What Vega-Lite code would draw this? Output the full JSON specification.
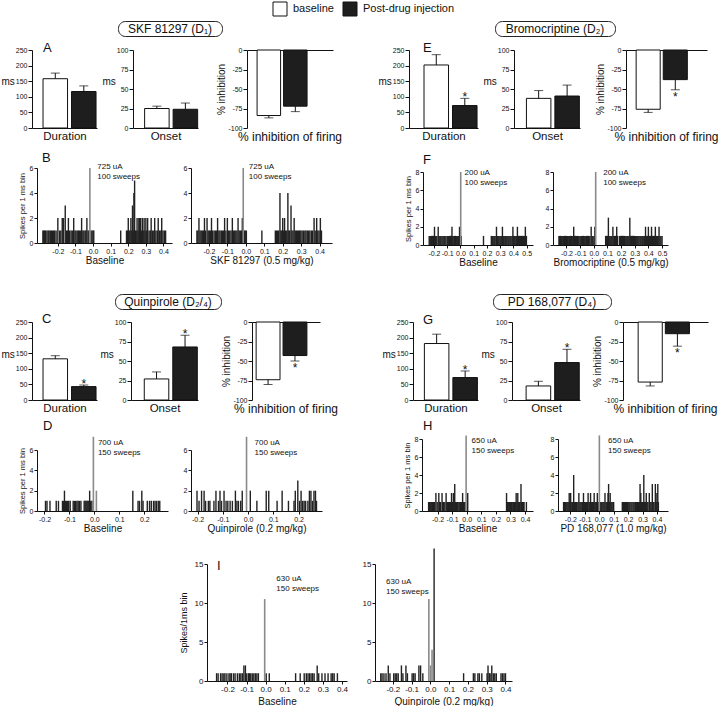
{
"$schema":"https://vega.github.io/schema/vega-lite/v6.json",
"padding":0,
"background":"white",
"config":{
 "view":{"stroke":null},
 "font":"Liberation Sans",
 "axis":{"labelFont":"Liberation Sans","titleFont":"Liberation Sans","labelFontSize":7,"titleFontSize":10,"titleFontWeight":"normal","tickSize":3,"labelPadding":1,"domainColor":"#111","tickColor":"#111","labelColor":"#111","titleColor":"#111","grid":false,"labelFlush":false,"labelOverlap":false,"titlePadding":3},
 "text":{"font":"Liberation Sans","color":"#111"},
 "title":{"font":"Liberation Sans","fontWeight":"normal","color":"#111"}
},
"datasets":{
 "notes":[{"p":"B0","t":0.024,"n":6.4,"txt":["725 uA","100 sweeps"]},{"p":"B1","t":0.016,"n":6.4,"txt":["725 uA","100 sweeps"]},{"p":"F0","t":0.031,"n":8.38,"txt":["200 uA","100 sweeps"]},{"p":"F1","t":0.069,"n":8.38,"txt":["200 uA","100 sweeps"]},{"p":"D0","t":0.014,"n":7.06,"txt":["700 uA","150 sweeps"]},{"p":"D1","t":0.026,"n":7.06,"txt":["700 uA","150 sweeps"]},{"p":"H0","t":0.033,"n":8.17,"txt":["650 uA","150 sweeps"]},{"p":"H1","t":0.061,"n":8.17,"txt":["650 uA","150 sweeps"]},{"p":"I0","t":0.056,"n":13.6,"txt":["630 uA","150 sweeps"]},{"p":"I1","t":-0.236,"n":13.2,"txt":["630 uA","150 sweeps"]}],
 "A_dur":[{"g":"baseline","v":158,"e":176},{"g":"Post-drug injection","v":117,"e":135}],
 "A_on":[{"g":"baseline","v":25,"e":28},{"g":"Post-drug injection","v":24,"e":32}],
 "A_inh":[{"g":"baseline","v":-84,"e":-87},{"g":"Post-drug injection","v":-72,"e":-79}],
 "E_dur":[{"g":"baseline","v":202,"e":235},{"g":"Post-drug injection","v":72,"e":95,"s":true}],
 "E_on":[{"g":"baseline","v":38,"e":48},{"g":"Post-drug injection","v":41,"e":55}],
 "E_inh":[{"g":"baseline","v":-76,"e":-80},{"g":"Post-drug injection","v":-38,"e":-51,"s":true}],
 "C_dur":[{"g":"baseline","v":132,"e":142},{"g":"Post-drug injection","v":43,"e":48,"s":true}],
 "C_on":[{"g":"baseline","v":27,"e":36},{"g":"Post-drug injection","v":68,"e":83,"s":true}],
 "C_inh":[{"g":"baseline","v":-74,"e":-80},{"g":"Post-drug injection","v":-43,"e":-50,"s":true}],
 "G_dur":[{"g":"baseline","v":181,"e":211},{"g":"Post-drug injection","v":72,"e":93,"s":true}],
 "G_on":[{"g":"baseline","v":18,"e":24},{"g":"Post-drug injection","v":48,"e":65,"s":true}],
 "G_inh":[{"g":"baseline","v":-77,"e":-82},{"g":"Post-drug injection","v":-15,"e":-31,"s":true}],
 "B0":[{"t":-0.285,"n":1},{"t":-0.28,"n":1},{"t":-0.275,"n":1},{"t":-0.27,"n":1},{"t":-0.262,"n":1},{"t":-0.255,"n":1},{"t":-0.25,"n":1},{"t":-0.243,"n":1},{"t":-0.237,"n":1},{"t":-0.23,"n":1},{"t":-0.224,"n":1},{"t":-0.218,"n":1},{"t":-0.21,"n":1},{"t":-0.2,"n":2},{"t":-0.19,"n":1},{"t":-0.183,"n":1},{"t":-0.175,"n":2},{"t":-0.168,"n":2},{"t":-0.158,"n":3},{"t":-0.15,"n":1},{"t":-0.145,"n":1},{"t":-0.14,"n":2},{"t":-0.133,"n":1},{"t":-0.125,"n":1},{"t":-0.118,"n":1},{"t":-0.11,"n":2},{"t":-0.103,"n":1},{"t":-0.097,"n":1},{"t":-0.09,"n":1},{"t":-0.083,"n":1},{"t":-0.078,"n":1},{"t":-0.07,"n":1},{"t":-0.065,"n":2},{"t":-0.058,"n":1},{"t":-0.052,"n":1},{"t":-0.045,"n":1},{"t":-0.04,"n":1},{"t":-0.035,"n":2},{"t":-0.028,"n":1},{"t":-0.022,"n":1},{"t":-0.018,"n":6,"k":"s"},{"t":-0.012,"n":1},{"t":-0.006,"n":1},{"t":0.0,"n":1},{"t":0.004,"n":1},{"t":0.157,"n":1},{"t":0.19,"n":1},{"t":0.195,"n":1},{"t":0.2,"n":2},{"t":0.205,"n":1},{"t":0.21,"n":1},{"t":0.215,"n":2},{"t":0.22,"n":1},{"t":0.224,"n":3},{"t":0.228,"n":1},{"t":0.232,"n":4},{"t":0.236,"n":5},{"t":0.24,"n":1},{"t":0.245,"n":1},{"t":0.25,"n":2},{"t":0.255,"n":1},{"t":0.26,"n":2},{"t":0.265,"n":2},{"t":0.27,"n":2},{"t":0.275,"n":1},{"t":0.28,"n":2},{"t":0.285,"n":1},{"t":0.29,"n":2},{"t":0.295,"n":1},{"t":0.3,"n":2},{"t":0.305,"n":1},{"t":0.31,"n":2},{"t":0.318,"n":1},{"t":0.325,"n":1},{"t":0.33,"n":2},{"t":0.337,"n":1},{"t":0.345,"n":1},{"t":0.35,"n":2},{"t":0.357,"n":1},{"t":0.365,"n":1},{"t":0.37,"n":2},{"t":0.378,"n":1},{"t":0.385,"n":1},{"t":0.39,"n":2},{"t":0.397,"n":1},{"t":0.405,"n":1},{"t":0.412,"n":1}],
 "B1":[{"t":-0.265,"n":1},{"t":-0.26,"n":1},{"t":-0.254,"n":2},{"t":-0.248,"n":1},{"t":-0.242,"n":1},{"t":-0.236,"n":1},{"t":-0.23,"n":1},{"t":-0.224,"n":2},{"t":-0.218,"n":1},{"t":-0.21,"n":2},{"t":-0.204,"n":1},{"t":-0.198,"n":1},{"t":-0.192,"n":1},{"t":-0.186,"n":2},{"t":-0.18,"n":1},{"t":-0.172,"n":1},{"t":-0.165,"n":1},{"t":-0.158,"n":1},{"t":-0.153,"n":2},{"t":-0.146,"n":1},{"t":-0.14,"n":1},{"t":-0.133,"n":1},{"t":-0.127,"n":1},{"t":-0.12,"n":1},{"t":-0.115,"n":2},{"t":-0.108,"n":1},{"t":-0.1,"n":2},{"t":-0.094,"n":1},{"t":-0.087,"n":1},{"t":-0.08,"n":1},{"t":-0.073,"n":2},{"t":-0.066,"n":1},{"t":-0.06,"n":1},{"t":-0.054,"n":1},{"t":-0.048,"n":1},{"t":-0.042,"n":2},{"t":-0.036,"n":1},{"t":-0.03,"n":1},{"t":-0.024,"n":1},{"t":-0.019,"n":2},{"t":-0.014,"n":6,"k":"s"},{"t":-0.008,"n":1},{"t":-0.003,"n":1},{"t":0.003,"n":1},{"t":0.087,"n":1},{"t":0.16,"n":1},{"t":0.166,"n":1},{"t":0.172,"n":1},{"t":0.178,"n":1},{"t":0.185,"n":4},{"t":0.19,"n":1},{"t":0.195,"n":1},{"t":0.2,"n":2},{"t":0.205,"n":1},{"t":0.21,"n":2},{"t":0.216,"n":1},{"t":0.222,"n":1},{"t":0.228,"n":4},{"t":0.233,"n":1},{"t":0.238,"n":1},{"t":0.245,"n":3},{"t":0.25,"n":1},{"t":0.256,"n":1},{"t":0.262,"n":2},{"t":0.268,"n":1},{"t":0.274,"n":1},{"t":0.28,"n":1},{"t":0.286,"n":1},{"t":0.292,"n":1},{"t":0.298,"n":1},{"t":0.305,"n":1},{"t":0.312,"n":1},{"t":0.32,"n":1},{"t":0.326,"n":1},{"t":0.333,"n":1},{"t":0.34,"n":1},{"t":0.347,"n":1},{"t":0.355,"n":1},{"t":0.362,"n":1},{"t":0.37,"n":2},{"t":0.376,"n":1},{"t":0.384,"n":2},{"t":0.39,"n":1},{"t":0.397,"n":1},{"t":0.404,"n":2},{"t":0.41,"n":1}],
 "F0":[{"t":-0.236,"n":1},{"t":-0.23,"n":1},{"t":-0.224,"n":1},{"t":-0.218,"n":1},{"t":-0.212,"n":1},{"t":-0.204,"n":1},{"t":-0.196,"n":2},{"t":-0.19,"n":1},{"t":-0.184,"n":1},{"t":-0.178,"n":1},{"t":-0.168,"n":2},{"t":-0.162,"n":1},{"t":-0.155,"n":1},{"t":-0.148,"n":1},{"t":-0.14,"n":1},{"t":-0.132,"n":1},{"t":-0.125,"n":1},{"t":-0.118,"n":1},{"t":-0.11,"n":1},{"t":-0.1,"n":1},{"t":-0.094,"n":1},{"t":-0.088,"n":1},{"t":-0.082,"n":1},{"t":-0.075,"n":1},{"t":-0.068,"n":1},{"t":-0.064,"n":2},{"t":-0.058,"n":1},{"t":-0.05,"n":1},{"t":-0.044,"n":1},{"t":-0.038,"n":1},{"t":-0.032,"n":1},{"t":-0.026,"n":1},{"t":-0.02,"n":1},{"t":-0.013,"n":1},{"t":-0.007,"n":2},{"t":0.002,"n":8,"k":"s"},{"t":0.006,"n":1},{"t":0.174,"n":1},{"t":0.233,"n":1},{"t":0.24,"n":1},{"t":0.247,"n":1},{"t":0.255,"n":1},{"t":0.262,"n":1},{"t":0.272,"n":2},{"t":0.278,"n":1},{"t":0.285,"n":1},{"t":0.292,"n":1},{"t":0.3,"n":1},{"t":0.308,"n":1},{"t":0.317,"n":2},{"t":0.323,"n":1},{"t":0.33,"n":1},{"t":0.338,"n":1},{"t":0.345,"n":1},{"t":0.352,"n":1},{"t":0.36,"n":1},{"t":0.367,"n":1},{"t":0.375,"n":1},{"t":0.382,"n":1},{"t":0.39,"n":1},{"t":0.396,"n":2},{"t":0.402,"n":1},{"t":0.41,"n":1},{"t":0.418,"n":1},{"t":0.425,"n":1},{"t":0.43,"n":2},{"t":0.437,"n":1},{"t":0.445,"n":1},{"t":0.452,"n":1},{"t":0.46,"n":1},{"t":0.467,"n":1},{"t":0.475,"n":1},{"t":0.482,"n":1},{"t":0.49,"n":2},{"t":0.498,"n":1}],
 "F1":[{"t":-0.255,"n":1},{"t":-0.25,"n":1},{"t":-0.244,"n":1},{"t":-0.238,"n":1},{"t":-0.232,"n":1},{"t":-0.226,"n":1},{"t":-0.22,"n":1},{"t":-0.214,"n":1},{"t":-0.208,"n":1},{"t":-0.2,"n":1},{"t":-0.194,"n":1},{"t":-0.188,"n":1},{"t":-0.182,"n":1},{"t":-0.176,"n":1},{"t":-0.17,"n":1},{"t":-0.164,"n":1},{"t":-0.158,"n":1},{"t":-0.152,"n":1},{"t":-0.147,"n":2},{"t":-0.14,"n":1},{"t":-0.134,"n":1},{"t":-0.128,"n":1},{"t":-0.12,"n":1},{"t":-0.114,"n":1},{"t":-0.108,"n":1},{"t":-0.1,"n":1},{"t":-0.094,"n":1},{"t":-0.088,"n":1},{"t":-0.082,"n":1},{"t":-0.076,"n":1},{"t":-0.07,"n":1},{"t":-0.064,"n":1},{"t":-0.058,"n":1},{"t":-0.052,"n":1},{"t":-0.046,"n":1},{"t":-0.04,"n":1},{"t":-0.034,"n":1},{"t":-0.028,"n":1},{"t":-0.019,"n":2},{"t":-0.012,"n":1},{"t":-0.006,"n":1},{"t":0.002,"n":1},{"t":0.008,"n":2},{"t":0.014,"n":8,"k":"s"},{"t":0.087,"n":1},{"t":0.093,"n":1},{"t":0.1,"n":1},{"t":0.107,"n":3},{"t":0.113,"n":1},{"t":0.12,"n":1},{"t":0.127,"n":1},{"t":0.133,"n":1},{"t":0.14,"n":2},{"t":0.147,"n":1},{"t":0.153,"n":1},{"t":0.16,"n":1},{"t":0.168,"n":2},{"t":0.175,"n":1},{"t":0.19,"n":1},{"t":0.197,"n":1},{"t":0.204,"n":1},{"t":0.21,"n":1},{"t":0.217,"n":1},{"t":0.224,"n":1},{"t":0.23,"n":1},{"t":0.237,"n":1},{"t":0.244,"n":1},{"t":0.25,"n":1},{"t":0.257,"n":1},{"t":0.264,"n":3},{"t":0.27,"n":1},{"t":0.277,"n":1},{"t":0.284,"n":1},{"t":0.29,"n":1},{"t":0.297,"n":1},{"t":0.304,"n":1},{"t":0.311,"n":1},{"t":0.318,"n":1},{"t":0.325,"n":1},{"t":0.332,"n":1},{"t":0.34,"n":1},{"t":0.347,"n":1},{"t":0.355,"n":1},{"t":0.362,"n":1},{"t":0.37,"n":1},{"t":0.379,"n":2},{"t":0.386,"n":1},{"t":0.393,"n":1},{"t":0.4,"n":2},{"t":0.408,"n":1},{"t":0.416,"n":1},{"t":0.423,"n":2},{"t":0.43,"n":1},{"t":0.437,"n":1},{"t":0.444,"n":1},{"t":0.451,"n":2},{"t":0.458,"n":1},{"t":0.465,"n":1},{"t":0.472,"n":1},{"t":0.478,"n":2},{"t":0.485,"n":1},{"t":0.492,"n":1},{"t":0.5,"n":1}],
 "D0":[{"t":-0.196,"n":1},{"t":-0.19,"n":1},{"t":-0.178,"n":1},{"t":-0.153,"n":1},{"t":-0.144,"n":1},{"t":-0.128,"n":1},{"t":-0.124,"n":1},{"t":-0.12,"n":2},{"t":-0.116,"n":1},{"t":-0.112,"n":1},{"t":-0.108,"n":1},{"t":-0.103,"n":1},{"t":-0.097,"n":1},{"t":-0.085,"n":1},{"t":-0.08,"n":1},{"t":-0.075,"n":1},{"t":-0.07,"n":1},{"t":-0.065,"n":1},{"t":-0.06,"n":1},{"t":-0.054,"n":1},{"t":-0.041,"n":1},{"t":-0.037,"n":1},{"t":-0.033,"n":1},{"t":-0.029,"n":1},{"t":-0.025,"n":1},{"t":-0.021,"n":1},{"t":-0.019,"n":2},{"t":-0.015,"n":1},{"t":-0.01,"n":1},{"t":-0.004,"n":7.3,"k":"s"},{"t":0.008,"n":2,"k":"s"},{"t":0.154,"n":2},{"t":0.175,"n":1},{"t":0.181,"n":1},{"t":0.19,"n":2},{"t":0.195,"n":1},{"t":0.212,"n":1},{"t":0.221,"n":1},{"t":0.228,"n":1},{"t":0.237,"n":1},{"t":0.243,"n":1},{"t":0.249,"n":1},{"t":0.256,"n":1},{"t":0.262,"n":1}],
 "D1":[{"t":-0.202,"n":2},{"t":-0.194,"n":1},{"t":-0.184,"n":2},{"t":-0.174,"n":2},{"t":-0.168,"n":1},{"t":-0.157,"n":1},{"t":-0.151,"n":1},{"t":-0.135,"n":1},{"t":-0.127,"n":2},{"t":-0.117,"n":1},{"t":-0.111,"n":2},{"t":-0.105,"n":1},{"t":-0.095,"n":2},{"t":-0.087,"n":1},{"t":-0.08,"n":1},{"t":-0.071,"n":1},{"t":-0.062,"n":1},{"t":-0.05,"n":2},{"t":-0.044,"n":1},{"t":-0.038,"n":1},{"t":-0.029,"n":1},{"t":-0.023,"n":2},{"t":-0.006,"n":7.3,"k":"s"},{"t":0.009,"n":2},{"t":0.035,"n":1},{"t":0.072,"n":2},{"t":0.082,"n":2},{"t":0.115,"n":1},{"t":0.135,"n":2},{"t":0.16,"n":1},{"t":0.182,"n":1},{"t":0.187,"n":2},{"t":0.197,"n":3},{"t":0.204,"n":1},{"t":0.21,"n":2},{"t":0.216,"n":1},{"t":0.222,"n":1},{"t":0.228,"n":1},{"t":0.237,"n":1},{"t":0.243,"n":2},{"t":0.249,"n":2},{"t":0.255,"n":1},{"t":0.261,"n":2},{"t":0.267,"n":2},{"t":0.271,"n":1}],
 "H0":[{"t":-0.261,"n":1},{"t":-0.255,"n":1},{"t":-0.25,"n":1},{"t":-0.244,"n":1},{"t":-0.239,"n":1},{"t":-0.233,"n":1},{"t":-0.228,"n":1},{"t":-0.22,"n":1},{"t":-0.211,"n":2},{"t":-0.202,"n":1},{"t":-0.191,"n":2},{"t":-0.185,"n":1},{"t":-0.18,"n":1},{"t":-0.169,"n":2},{"t":-0.164,"n":1},{"t":-0.159,"n":1},{"t":-0.15,"n":1},{"t":-0.141,"n":2},{"t":-0.135,"n":1},{"t":-0.13,"n":1},{"t":-0.124,"n":1},{"t":-0.119,"n":1},{"t":-0.113,"n":1},{"t":-0.108,"n":1},{"t":-0.104,"n":2},{"t":-0.097,"n":1},{"t":-0.091,"n":2},{"t":-0.082,"n":3},{"t":-0.076,"n":1},{"t":-0.071,"n":1},{"t":-0.065,"n":1},{"t":-0.06,"n":1},{"t":-0.053,"n":1},{"t":-0.047,"n":1},{"t":-0.041,"n":1},{"t":-0.036,"n":1},{"t":-0.028,"n":2},{"t":-0.022,"n":1},{"t":-0.017,"n":1},{"t":-0.011,"n":1},{"t":-0.004,"n":8.4,"k":"s"},{"t":0.007,"n":2},{"t":0.273,"n":2},{"t":0.279,"n":1},{"t":0.284,"n":1},{"t":0.29,"n":1},{"t":0.295,"n":1},{"t":0.3,"n":1},{"t":0.306,"n":1},{"t":0.311,"n":1},{"t":0.317,"n":1},{"t":0.322,"n":1},{"t":0.328,"n":1},{"t":0.333,"n":1},{"t":0.339,"n":2},{"t":0.345,"n":1},{"t":0.35,"n":2},{"t":0.355,"n":1},{"t":0.361,"n":1},{"t":0.366,"n":1},{"t":0.372,"n":3},{"t":0.377,"n":1},{"t":0.383,"n":1},{"t":0.388,"n":1},{"t":0.393,"n":1},{"t":0.409,"n":1}],
 "H1":[{"t":-0.247,"n":1},{"t":-0.241,"n":1},{"t":-0.235,"n":1},{"t":-0.229,"n":1},{"t":-0.222,"n":1},{"t":-0.215,"n":1},{"t":-0.208,"n":2},{"t":-0.203,"n":1},{"t":-0.198,"n":2},{"t":-0.19,"n":1},{"t":-0.184,"n":1},{"t":-0.177,"n":4},{"t":-0.17,"n":1},{"t":-0.163,"n":1},{"t":-0.156,"n":1},{"t":-0.148,"n":1},{"t":-0.141,"n":2},{"t":-0.134,"n":1},{"t":-0.127,"n":1},{"t":-0.12,"n":1},{"t":-0.115,"n":1},{"t":-0.109,"n":2},{"t":-0.102,"n":1},{"t":-0.095,"n":1},{"t":-0.088,"n":1},{"t":-0.082,"n":1},{"t":-0.077,"n":2},{"t":-0.07,"n":1},{"t":-0.065,"n":1},{"t":-0.06,"n":2},{"t":-0.053,"n":1},{"t":-0.047,"n":1},{"t":-0.041,"n":1},{"t":-0.035,"n":2},{"t":-0.029,"n":1},{"t":-0.023,"n":1},{"t":-0.018,"n":1},{"t":-0.013,"n":2},{"t":-0.007,"n":1},{"t":0.001,"n":8.4,"k":"s"},{"t":0.008,"n":1},{"t":0.014,"n":1},{"t":0.02,"n":1},{"t":0.027,"n":1},{"t":0.034,"n":1},{"t":0.04,"n":2},{"t":0.047,"n":1},{"t":0.053,"n":1},{"t":0.058,"n":1},{"t":0.061,"n":2},{"t":0.065,"n":3},{"t":0.071,"n":1},{"t":0.076,"n":2},{"t":0.082,"n":1},{"t":0.088,"n":1},{"t":0.095,"n":1},{"t":0.1,"n":1},{"t":0.16,"n":1},{"t":0.167,"n":1},{"t":0.175,"n":1},{"t":0.182,"n":1},{"t":0.19,"n":1},{"t":0.197,"n":1},{"t":0.205,"n":1},{"t":0.212,"n":1},{"t":0.22,"n":1},{"t":0.227,"n":1},{"t":0.235,"n":1},{"t":0.242,"n":1},{"t":0.25,"n":1},{"t":0.257,"n":1},{"t":0.265,"n":1},{"t":0.272,"n":1},{"t":0.278,"n":1},{"t":0.283,"n":3},{"t":0.288,"n":2},{"t":0.294,"n":1},{"t":0.3,"n":1},{"t":0.304,"n":1},{"t":0.309,"n":4},{"t":0.315,"n":1},{"t":0.32,"n":1},{"t":0.326,"n":2},{"t":0.332,"n":1},{"t":0.338,"n":1},{"t":0.347,"n":2},{"t":0.353,"n":1},{"t":0.36,"n":1},{"t":0.368,"n":3},{"t":0.374,"n":1},{"t":0.38,"n":1},{"t":0.389,"n":3},{"t":0.395,"n":1},{"t":0.4,"n":2},{"t":0.406,"n":3},{"t":0.41,"n":1}],
 "I0":[{"t":-0.257,"n":1},{"t":-0.249,"n":1},{"t":-0.236,"n":1},{"t":-0.228,"n":1},{"t":-0.219,"n":1},{"t":-0.213,"n":1},{"t":-0.203,"n":1},{"t":-0.192,"n":1},{"t":-0.186,"n":1},{"t":-0.179,"n":1},{"t":-0.168,"n":1},{"t":-0.16,"n":1},{"t":-0.148,"n":1},{"t":-0.138,"n":1},{"t":-0.13,"n":1},{"t":-0.122,"n":1},{"t":-0.114,"n":2},{"t":-0.106,"n":2},{"t":-0.099,"n":1},{"t":-0.09,"n":1},{"t":-0.085,"n":1},{"t":-0.078,"n":1},{"t":-0.07,"n":1},{"t":-0.062,"n":1},{"t":-0.054,"n":1},{"t":-0.046,"n":1},{"t":-0.038,"n":1},{"t":-0.005,"n":10.5,"k":"s"},{"t":0.003,"n":1},{"t":0.019,"n":1},{"t":0.157,"n":1},{"t":0.181,"n":1},{"t":0.202,"n":1},{"t":0.213,"n":1},{"t":0.222,"n":1},{"t":0.23,"n":1},{"t":0.238,"n":1},{"t":0.246,"n":1},{"t":0.254,"n":1},{"t":0.27,"n":2},{"t":0.278,"n":1},{"t":0.295,"n":1},{"t":0.311,"n":1},{"t":0.327,"n":1},{"t":0.343,"n":1},{"t":0.351,"n":1},{"t":0.359,"n":1},{"t":0.376,"n":1}],
 "I1":[{"t":-0.264,"n":1},{"t":-0.257,"n":1},{"t":-0.247,"n":1},{"t":-0.236,"n":1},{"t":-0.224,"n":2},{"t":-0.215,"n":1},{"t":-0.195,"n":1},{"t":-0.187,"n":1},{"t":-0.179,"n":1},{"t":-0.171,"n":1},{"t":-0.154,"n":2},{"t":-0.146,"n":1},{"t":-0.13,"n":2},{"t":-0.122,"n":1},{"t":-0.097,"n":1},{"t":-0.089,"n":1},{"t":-0.081,"n":1},{"t":-0.061,"n":2},{"t":-0.052,"n":2},{"t":-0.04,"n":1},{"t":-0.008,"n":10.5,"k":"s"},{"t":0.001,"n":2,"k":"s"},{"t":0.009,"n":4,"k":"s"},{"t":0.02,"n":17},{"t":0.177,"n":1},{"t":0.229,"n":1},{"t":0.237,"n":1},{"t":0.253,"n":1},{"t":0.261,"n":1},{"t":0.274,"n":1},{"t":0.302,"n":1},{"t":0.307,"n":2},{"t":0.314,"n":1},{"t":0.318,"n":1},{"t":0.327,"n":2},{"t":0.335,"n":1},{"t":0.343,"n":1},{"t":0.351,"n":1},{"t":0.376,"n":1},{"t":0.384,"n":1},{"t":0.392,"n":1},{"t":0.4,"n":1}]
},
"spacing":0,
"vconcat":[
 {"hconcat":[
  {"width":280,"height":18,"data":{"values":[]},"mark":"point"},
  {"width":70,"height":14,"data":{"values":[{"g":"baseline"},{"g":"Post-drug injection"}]},
   "encoding":{"x":{"field":"g","type":"nominal","sort":null,"scale":{"type":"point","padding":0},"axis":null}},
   "layer":[
    {"mark":{"type":"square","size":196,"stroke":"#111","strokeWidth":1,"opacity":1},"encoding":{"fill":{"field":"g","type":"nominal","scale":{"domain":["baseline","Post-drug injection"],"range":["#ffffff","#1e1e1e"]},"legend":null}}},
    {"mark":{"type":"text","align":"left","baseline":"middle","dx":13,"fontSize":11},"encoding":{"text":{"field":"g"}}}
   ]}
 ],"spacing":0,"bounds":"flush"},
 {"hconcat":[
  {"width":118,"height":18,"data":{"values":[]},"mark":"point"},
  {"width":104,"height":15,"data":{"values":[{"name":"SKF 81297 (D₁)"}]},"mark":{"type":"text","fontSize":12,"baseline":"middle","align":"center"},"encoding":{"text":{"field":"name"}},"view":{"stroke":"#222","strokeWidth":1,"cornerRadius":7}},
  {"width":273,"height":1,"data":{"values":[]},"mark":"point"},
  {"width":120,"height":15,"data":{"values":[{"name":"Bromocriptine (D₂)"}]},"mark":{"type":"text","fontSize":12,"baseline":"middle","align":"center"},"encoding":{"text":{"field":"name"}},"view":{"stroke":"#222","strokeWidth":1,"cornerRadius":7}}
 ],"spacing":0,"bounds":"flush"},
 {"hconcat":[
  {"width":32,"height":112,"data":{"values":[]},"mark":"point"},
  {"width":65,"height":89,"data":{"name":"A_dur"},
   "title":{"text":"A","anchor":"start","frame":"group","baseline":"alphabetic","offset":-26,"dx":11,"fontSize":13},
   "encoding":{"x":{"field":"g","type":"nominal","sort":null,"title":"Duration","scale":{"domain":["baseline","Post-drug injection"],"paddingInner":0.14,"paddingOuter":0.21,"align":0.92},"axis":{"labels":false,"ticks":false,"titleFontSize":11.5,"titlePadding":2}},
    "y":{"field":"v","type":"quantitative","title":"ms","scale":{"domain":[0,250],"nice":false,"range":[89,11]},"axis":{"values":[0,50,100,150,200,250],"tickSize":4,"titleAngle":0,"titleAlign":"right","titleBaseline":"middle","titleY":42,"titlePadding":1}}},
   "layer":[
    {"mark":{"type":"bar","stroke":"#111","strokeWidth":1},"encoding":{"fill":{"field":"g","type":"nominal","scale":{"domain":["baseline","Post-drug injection"],"range":["#ffffff","#1e1e1e"]},"legend":null}}},
    {"mark":{"type":"rule","color":"#111","strokeWidth":1},"encoding":{"y2":{"field":"e"}}},
    {"mark":{"type":"tick","color":"#111","size":9,"thickness":1},"encoding":{"y":{"field":"e","type":"quantitative","title":"ms"}}},
    {"transform":[{"filter":"datum.s"}],"mark":{"type":"text","text":"*","fontSize":12,"baseline":"alphabetic","dy":3},"encoding":{"y":{"field":"e","type":"quantitative","title":"ms"}}}
   ]},
  {"width":36,"height":1,"data":{"values":[]},"mark":"point"},
  {"width":65,"height":89,"data":{"name":"A_on"},
   "encoding":{"x":{"field":"g","type":"nominal","sort":null,"title":"Onset","scale":{"domain":["baseline","Post-drug injection"],"paddingInner":0.14,"paddingOuter":0.21,"align":0.97},"axis":{"labels":false,"ticks":false,"titleFontSize":11.5,"titlePadding":2}},
    "y":{"field":"v","type":"quantitative","title":"ms","scale":{"domain":[0,100],"nice":false,"range":[89,11]},"axis":{"values":[0,25,50,75,100],"tickSize":4,"titleAngle":0,"titleAlign":"right","titleBaseline":"middle","titleY":42,"titlePadding":1}}},
   "layer":[
    {"mark":{"type":"bar","stroke":"#111","strokeWidth":1},"encoding":{"fill":{"field":"g","type":"nominal","scale":{"domain":["baseline","Post-drug injection"],"range":["#ffffff","#1e1e1e"]},"legend":null}}},
    {"mark":{"type":"rule","color":"#111","strokeWidth":1},"encoding":{"y2":{"field":"e"}}},
    {"mark":{"type":"tick","color":"#111","size":9,"thickness":1},"encoding":{"y":{"field":"e","type":"quantitative","title":"ms"}}},
    {"transform":[{"filter":"datum.s"}],"mark":{"type":"text","text":"*","fontSize":12,"baseline":"alphabetic","dy":3},"encoding":{"y":{"field":"e","type":"quantitative","title":"ms"}}}
   ]},
  {"width":49,"height":1,"data":{"values":[]},"mark":"point"},
  {"width":86,"height":89,"data":{"name":"A_inh"},
   "title":{"text":"% inhibition of firing","orient":"bottom","frame":"group","anchor":"middle","offset":1,"fontSize":12},
   "encoding":{"x":{"field":"g","type":"nominal","sort":null,"title":null,"scale":{"domain":["baseline","Post-drug injection"],"paddingInner":0.113,"paddingOuter":0.68,"align":0.28},"axis":{"orient":"top","labels":false,"ticks":false,"offset":-11}},
    "y":{"field":"v","type":"quantitative","title":"% inhibition","scale":{"domain":[-100,0],"nice":false,"range":[89,11]},"axis":{"values":[-100,-75,-50,-25,0],"labelExpr":"replace(format(datum.value,'d'),'−','-')","tickSize":4,"titlePadding":1}}},
   "layer":[
    {"mark":{"type":"bar","stroke":"#111","strokeWidth":1},"encoding":{"fill":{"field":"g","type":"nominal","scale":{"domain":["baseline","Post-drug injection"],"range":["#ffffff","#1e1e1e"]},"legend":null}}},
    {"mark":{"type":"rule","color":"#111","strokeWidth":1},"encoding":{"y2":{"field":"e"}}},
    {"mark":{"type":"tick","color":"#111","size":9,"thickness":1},"encoding":{"y":{"field":"e","type":"quantitative","title":"% inhibition"}}},
    {"transform":[{"filter":"datum.s"}],"mark":{"type":"text","text":"*","fontSize":12,"baseline":"alphabetic","dy":11},"encoding":{"y":{"field":"e","type":"quantitative","title":"% inhibition"}}}
   ]},
  {"width":76,"height":1,"data":{"values":[]},"mark":"point"},
  {"width":69,"height":89,"data":{"name":"E_dur"},
   "title":{"text":"E","anchor":"start","frame":"group","baseline":"alphabetic","offset":-26,"dx":14,"fontSize":13},
   "encoding":{"x":{"field":"g","type":"nominal","sort":null,"title":"Duration","scale":{"domain":["baseline","Post-drug injection"],"paddingInner":0.14,"paddingOuter":0.28,"align":0.94},"axis":{"labels":false,"ticks":false,"titleFontSize":11.5,"titlePadding":2}},
    "y":{"field":"v","type":"quantitative","title":"ms","scale":{"domain":[0,250],"nice":false,"range":[89,11]},"axis":{"values":[0,50,100,150,200,250],"tickSize":4,"titleAngle":0,"titleAlign":"right","titleBaseline":"middle","titleY":42,"titlePadding":1}}},
   "layer":[
    {"mark":{"type":"bar","stroke":"#111","strokeWidth":1},"encoding":{"fill":{"field":"g","type":"nominal","scale":{"domain":["baseline","Post-drug injection"],"range":["#ffffff","#1e1e1e"]},"legend":null}}},
    {"mark":{"type":"rule","color":"#111","strokeWidth":1},"encoding":{"y2":{"field":"e"}}},
    {"mark":{"type":"tick","color":"#111","size":9,"thickness":1},"encoding":{"y":{"field":"e","type":"quantitative","title":"ms"}}},
    {"transform":[{"filter":"datum.s"}],"mark":{"type":"text","text":"*","fontSize":12,"baseline":"alphabetic","dy":3},"encoding":{"y":{"field":"e","type":"quantitative","title":"ms"}}}
   ]},
  {"width":36,"height":1,"data":{"values":[]},"mark":"point"},
  {"width":66,"height":89,"data":{"name":"E_on"},
   "encoding":{"x":{"field":"g","type":"nominal","sort":null,"title":"Onset","scale":{"domain":["baseline","Post-drug injection"],"paddingInner":0.14,"paddingOuter":0.23,"align":0.95},"axis":{"labels":false,"ticks":false,"titleFontSize":11.5,"titlePadding":2}},
    "y":{"field":"v","type":"quantitative","title":"ms","scale":{"domain":[0,100],"nice":false,"range":[89,11]},"axis":{"values":[0,25,50,75,100],"tickSize":4,"titleAngle":0,"titleAlign":"right","titleBaseline":"middle","titleY":42,"titlePadding":1}}},
   "layer":[
    {"mark":{"type":"bar","stroke":"#111","strokeWidth":1},"encoding":{"fill":{"field":"g","type":"nominal","scale":{"domain":["baseline","Post-drug injection"],"range":["#ffffff","#1e1e1e"]},"legend":null}}},
    {"mark":{"type":"rule","color":"#111","strokeWidth":1},"encoding":{"y2":{"field":"e"}}},
    {"mark":{"type":"tick","color":"#111","size":9,"thickness":1},"encoding":{"y":{"field":"e","type":"quantitative","title":"ms"}}},
    {"transform":[{"filter":"datum.s"}],"mark":{"type":"text","text":"*","fontSize":12,"baseline":"alphabetic","dy":3},"encoding":{"y":{"field":"e","type":"quantitative","title":"ms"}}}
   ]},
  {"width":46,"height":1,"data":{"values":[]},"mark":"point"},
  {"width":81,"height":89,"data":{"name":"E_inh"},
   "title":{"text":"% inhibition of firing","orient":"bottom","frame":"group","anchor":"middle","offset":1,"fontSize":12},
   "encoding":{"x":{"field":"g","type":"nominal","sort":null,"title":null,"scale":{"domain":["baseline","Post-drug injection"],"paddingInner":0.113,"paddingOuter":0.55,"align":0.34},"axis":{"orient":"top","labels":false,"ticks":false,"offset":-11}},
    "y":{"field":"v","type":"quantitative","title":"% inhibition","scale":{"domain":[-100,0],"nice":false,"range":[89,11]},"axis":{"values":[-100,-75,-50,-25,0],"labelExpr":"replace(format(datum.value,'d'),'−','-')","tickSize":4,"titlePadding":1}}},
   "layer":[
    {"mark":{"type":"bar","stroke":"#111","strokeWidth":1},"encoding":{"fill":{"field":"g","type":"nominal","scale":{"domain":["baseline","Post-drug injection"],"range":["#ffffff","#1e1e1e"]},"legend":null}}},
    {"mark":{"type":"rule","color":"#111","strokeWidth":1},"encoding":{"y2":{"field":"e"}}},
    {"mark":{"type":"tick","color":"#111","size":9,"thickness":1},"encoding":{"y":{"field":"e","type":"quantitative","title":"% inhibition"}}},
    {"transform":[{"filter":"datum.s"}],"mark":{"type":"text","text":"*","fontSize":12,"baseline":"alphabetic","dy":11},"encoding":{"y":{"field":"e","type":"quantitative","title":"% inhibition"}}}
   ]}
 ],"spacing":0,"bounds":"flush"},
 {"hconcat":[
  {"width":37,"height":142,"data":{"values":[]},"mark":"point"},
  {"width":135,"height":92,"data":{"name":"B0"},
   "title":{"text":"B","anchor":"start","frame":"group","baseline":"alphabetic","offset":-24,"dx":5,"fontSize":13},
   "encoding":{"x":{"field":"t","type":"quantitative","title":"Baseline","scale":{"domain":[-0.29,0.42],"nice":false,"zero":false},"axis":{"values":[-0.2,-0.1,0,0.1,0.2,0.3,0.4],"labelExpr":"replace(format(datum.value,'.1f'),'−','-')","titlePadding":1.5}},
    "y":{"field":"n","type":"quantitative","title":"Spikes per 1 ms bin","scale":{"domain":[0,6],"nice":false,"range":[92,17]},"axis":{"values":[0,2,4,6],"titleFontSize":7.5,"titlePadding":3}}},
   "layer":[
    {"transform":[{"filter":"datum.k !== 's'"}],"mark":{"type":"bar","orient":"vertical","size":1.4,"color":"#222"}},
    {"transform":[{"filter":"datum.k === 's'"}],"mark":{"type":"bar","orient":"vertical","size":1.6,"color":"#8a8a8a"}},
    {"data":{"name":"notes"},"transform":[{"filter":"datum.p === 'B0'"}],"mark":{"type":"text","align":"left","baseline":"top","fontSize":8,"lineHeight":10},"encoding":{"text":{"field":"txt"}}}
   ]},
  {"width":19,"height":1,"data":{"values":[]},"mark":"point"},
  {"width":141,"height":92,"data":{"name":"B1"},
   "encoding":{"x":{"field":"t","type":"quantitative","title":"SKF 81297 (0.5 mg/kg)","scale":{"domain":[-0.27,0.44],"nice":false,"zero":false},"axis":{"values":[-0.2,-0.1,0,0.1,0.2,0.3,0.4],"labelExpr":"replace(format(datum.value,'.1f'),'−','-')","titlePadding":1.5}},
    "y":{"field":"n","type":"quantitative","title":null,"scale":{"domain":[0,6],"nice":false,"range":[92,17]},"axis":{"values":[0,2,4,6]}}},
   "layer":[
    {"transform":[{"filter":"datum.k !== 's'"}],"mark":{"type":"bar","orient":"vertical","size":1.4,"color":"#222"}},
    {"transform":[{"filter":"datum.k === 's'"}],"mark":{"type":"bar","orient":"vertical","size":1.6,"color":"#8a8a8a"}},
    {"data":{"name":"notes"},"transform":[{"filter":"datum.p === 'B1'"}],"mark":{"type":"text","align":"left","baseline":"top","fontSize":8,"lineHeight":10},"encoding":{"text":{"field":"txt"}}}
   ]},
  {"width":91,"height":1,"data":{"values":[]},"mark":"point"},
  {"width":110,"height":94,"data":{"name":"F0"},
   "title":{"text":"F","anchor":"start","frame":"group","baseline":"alphabetic","offset":-26,"dx":0,"fontSize":13},
   "encoding":{"x":{"field":"t","type":"quantitative","title":"Baseline","scale":{"domain":[-0.245,0.51],"nice":false,"zero":false},"axis":{"values":[-0.2,-0.1,0,0.1,0.2,0.3,0.4,0.5],"labelExpr":"replace(format(datum.value,'.1f'),'−','-')","titlePadding":1.5}},
    "y":{"field":"n","type":"quantitative","title":"Spikes per 1 ms bin","scale":{"domain":[0,8],"nice":false,"range":[94,21]},"axis":{"values":[0,2,4,6,8],"titleFontSize":7.5,"titlePadding":3}}},
   "layer":[
    {"transform":[{"filter":"datum.k !== 's'"}],"mark":{"type":"bar","orient":"vertical","size":1.4,"color":"#222"}},
    {"transform":[{"filter":"datum.k === 's'"}],"mark":{"type":"bar","orient":"vertical","size":1.6,"color":"#8a8a8a"}},
    {"data":{"name":"notes"},"transform":[{"filter":"datum.p === 'F0'"}],"mark":{"type":"text","align":"left","baseline":"top","fontSize":8,"lineHeight":10},"encoding":{"text":{"field":"txt"}}}
   ]},
  {"width":20,"height":1,"data":{"values":[]},"mark":"point"},
  {"width":115,"height":94,"data":{"name":"F1"},
   "encoding":{"x":{"field":"t","type":"quantitative","title":"Bromocriptine (0.5 mg/kg)","scale":{"domain":[-0.262,0.507],"nice":false,"zero":false},"axis":{"values":[-0.2,-0.1,0,0.1,0.2,0.3,0.4,0.5],"labelExpr":"replace(format(datum.value,'.1f'),'−','-')","titlePadding":1.5}},
    "y":{"field":"n","type":"quantitative","title":null,"scale":{"domain":[0,8],"nice":false,"range":[94,21]},"axis":{"values":[0,2,4,6,8]}}},
   "layer":[
    {"transform":[{"filter":"datum.k !== 's'"}],"mark":{"type":"bar","orient":"vertical","size":1.4,"color":"#222"}},
    {"transform":[{"filter":"datum.k === 's'"}],"mark":{"type":"bar","orient":"vertical","size":1.6,"color":"#8a8a8a"}},
    {"data":{"name":"notes"},"transform":[{"filter":"datum.p === 'F1'"}],"mark":{"type":"text","align":"left","baseline":"top","fontSize":8,"lineHeight":10},"encoding":{"text":{"field":"txt"}}}
   ]}
 ],"spacing":0,"bounds":"flush"},
 {"hconcat":[
  {"width":115,"height":18,"data":{"values":[]},"mark":"point"},
  {"width":106,"height":15,"data":{"values":[{"name":"Quinpirole (D₂/₄)"}]},"mark":{"type":"text","fontSize":12,"baseline":"middle","align":"center"},"encoding":{"text":{"field":"name"}},"view":{"stroke":"#222","strokeWidth":1,"cornerRadius":7}},
  {"width":272,"height":1,"data":{"values":[]},"mark":"point"},
  {"width":118,"height":15,"data":{"values":[{"name":"PD 168,077 (D₄)"}]},"mark":{"type":"text","fontSize":12,"baseline":"middle","align":"center"},"encoding":{"text":{"field":"name"}},"view":{"stroke":"#222","strokeWidth":1,"cornerRadius":7}}
 ],"spacing":0,"bounds":"flush"},
 {"hconcat":[
  {"width":32,"height":108,"data":{"values":[]},"mark":"point"},
  {"width":65,"height":88,"data":{"name":"C_dur"},
   "title":{"text":"C","anchor":"start","frame":"group","baseline":"alphabetic","offset":-24,"dx":10,"fontSize":13},
   "encoding":{"x":{"field":"g","type":"nominal","sort":null,"title":"Duration","scale":{"domain":["baseline","Post-drug injection"],"paddingInner":0.14,"paddingOuter":0.21,"align":0.92},"axis":{"labels":false,"ticks":false,"titleFontSize":11.5,"titlePadding":2}},
    "y":{"field":"v","type":"quantitative","title":"ms","scale":{"domain":[0,250],"nice":false,"range":[88,10]},"axis":{"values":[0,50,100,150,200,250],"tickSize":4,"titleAngle":0,"titleAlign":"right","titleBaseline":"middle","titleY":42,"titlePadding":1}}},
   "layer":[
    {"mark":{"type":"bar","stroke":"#111","strokeWidth":1},"encoding":{"fill":{"field":"g","type":"nominal","scale":{"domain":["baseline","Post-drug injection"],"range":["#ffffff","#1e1e1e"]},"legend":null}}},
    {"mark":{"type":"rule","color":"#111","strokeWidth":1},"encoding":{"y2":{"field":"e"}}},
    {"mark":{"type":"tick","color":"#111","size":9,"thickness":1},"encoding":{"y":{"field":"e","type":"quantitative","title":"ms"}}},
    {"transform":[{"filter":"datum.s"}],"mark":{"type":"text","text":"*","fontSize":12,"baseline":"alphabetic","dy":3},"encoding":{"y":{"field":"e","type":"quantitative","title":"ms"}}}
   ]},
  {"width":34,"height":1,"data":{"values":[]},"mark":"point"},
  {"width":67,"height":88,"data":{"name":"C_on"},
   "encoding":{"x":{"field":"g","type":"nominal","sort":null,"title":"Onset","scale":{"domain":["baseline","Post-drug injection"],"paddingInner":0.14,"paddingOuter":0.245,"align":0.95},"axis":{"labels":false,"ticks":false,"titleFontSize":11.5,"titlePadding":2}},
    "y":{"field":"v","type":"quantitative","title":"ms","scale":{"domain":[0,100],"nice":false,"range":[88,10]},"axis":{"values":[0,25,50,75,100],"tickSize":4,"titleAngle":0,"titleAlign":"right","titleBaseline":"middle","titleY":42,"titlePadding":1}}},
   "layer":[
    {"mark":{"type":"bar","stroke":"#111","strokeWidth":1},"encoding":{"fill":{"field":"g","type":"nominal","scale":{"domain":["baseline","Post-drug injection"],"range":["#ffffff","#1e1e1e"]},"legend":null}}},
    {"mark":{"type":"rule","color":"#111","strokeWidth":1},"encoding":{"y2":{"field":"e"}}},
    {"mark":{"type":"tick","color":"#111","size":9,"thickness":1},"encoding":{"y":{"field":"e","type":"quantitative","title":"ms"}}},
    {"transform":[{"filter":"datum.s"}],"mark":{"type":"text","text":"*","fontSize":12,"baseline":"alphabetic","dy":3},"encoding":{"y":{"field":"e","type":"quantitative","title":"ms"}}}
   ]},
  {"width":54,"height":1,"data":{"values":[]},"mark":"point"},
  {"width":68,"height":88,"data":{"name":"C_inh"},
   "title":{"text":"% inhibition of firing","orient":"bottom","frame":"group","anchor":"middle","offset":1,"fontSize":12},
   "encoding":{"x":{"field":"g","type":"nominal","sort":null,"title":null,"scale":{"domain":["baseline","Post-drug injection"],"paddingInner":0.113,"paddingOuter":0.32,"align":0.24},"axis":{"orient":"top","labels":false,"ticks":false,"offset":-10}},
    "y":{"field":"v","type":"quantitative","title":"% inhibition","scale":{"domain":[-100,0],"nice":false,"range":[88,10]},"axis":{"values":[-100,-75,-50,-25,0],"labelExpr":"replace(format(datum.value,'d'),'−','-')","tickSize":4,"titlePadding":1}}},
   "layer":[
    {"mark":{"type":"bar","stroke":"#111","strokeWidth":1},"encoding":{"fill":{"field":"g","type":"nominal","scale":{"domain":["baseline","Post-drug injection"],"range":["#ffffff","#1e1e1e"]},"legend":null}}},
    {"mark":{"type":"rule","color":"#111","strokeWidth":1},"encoding":{"y2":{"field":"e"}}},
    {"mark":{"type":"tick","color":"#111","size":9,"thickness":1},"encoding":{"y":{"field":"e","type":"quantitative","title":"% inhibition"}}},
    {"transform":[{"filter":"datum.s"}],"mark":{"type":"text","text":"*","fontSize":12,"baseline":"alphabetic","dy":11},"encoding":{"y":{"field":"e","type":"quantitative","title":"% inhibition"}}}
   ]},
  {"width":93,"height":1,"data":{"values":[]},"mark":"point"},
  {"width":65,"height":88,"data":{"name":"G_dur"},
   "title":{"text":"G","anchor":"start","frame":"group","baseline":"alphabetic","offset":-25,"dx":10,"fontSize":13},
   "encoding":{"x":{"field":"g","type":"nominal","sort":null,"title":"Duration","scale":{"domain":["baseline","Post-drug injection"],"paddingInner":0.14,"paddingOuter":0.21,"align":0.95},"axis":{"labels":false,"ticks":false,"titleFontSize":11.5,"titlePadding":2}},
    "y":{"field":"v","type":"quantitative","title":"ms","scale":{"domain":[0,250],"nice":false,"range":[88,10]},"axis":{"values":[0,50,100,150,200,250],"tickSize":4,"titleAngle":0,"titleAlign":"right","titleBaseline":"middle","titleY":42,"titlePadding":1}}},
   "layer":[
    {"mark":{"type":"bar","stroke":"#111","strokeWidth":1},"encoding":{"fill":{"field":"g","type":"nominal","scale":{"domain":["baseline","Post-drug injection"],"range":["#ffffff","#1e1e1e"]},"legend":null}}},
    {"mark":{"type":"rule","color":"#111","strokeWidth":1},"encoding":{"y2":{"field":"e"}}},
    {"mark":{"type":"tick","color":"#111","size":9,"thickness":1},"encoding":{"y":{"field":"e","type":"quantitative","title":"ms"}}},
    {"transform":[{"filter":"datum.s"}],"mark":{"type":"text","text":"*","fontSize":12,"baseline":"alphabetic","dy":3},"encoding":{"y":{"field":"e","type":"quantitative","title":"ms"}}}
   ]},
  {"width":34,"height":1,"data":{"values":[]},"mark":"point"},
  {"width":68,"height":88,"data":{"name":"G_on"},
   "encoding":{"x":{"field":"g","type":"nominal","sort":null,"title":"Onset","scale":{"domain":["baseline","Post-drug injection"],"paddingInner":0.14,"paddingOuter":0.26,"align":0.95},"axis":{"labels":false,"ticks":false,"titleFontSize":11.5,"titlePadding":2}},
    "y":{"field":"v","type":"quantitative","title":"ms","scale":{"domain":[0,100],"nice":false,"range":[88,10]},"axis":{"values":[0,25,50,75,100],"tickSize":4,"titleAngle":0,"titleAlign":"right","titleBaseline":"middle","titleY":42,"titlePadding":1}}},
   "layer":[
    {"mark":{"type":"bar","stroke":"#111","strokeWidth":1},"encoding":{"fill":{"field":"g","type":"nominal","scale":{"domain":["baseline","Post-drug injection"],"range":["#ffffff","#1e1e1e"]},"legend":null}}},
    {"mark":{"type":"rule","color":"#111","strokeWidth":1},"encoding":{"y2":{"field":"e"}}},
    {"mark":{"type":"tick","color":"#111","size":9,"thickness":1},"encoding":{"y":{"field":"e","type":"quantitative","title":"ms"}}},
    {"transform":[{"filter":"datum.s"}],"mark":{"type":"text","text":"*","fontSize":12,"baseline":"alphabetic","dy":3},"encoding":{"y":{"field":"e","type":"quantitative","title":"ms"}}}
   ]},
  {"width":43,"height":1,"data":{"values":[]},"mark":"point"},
  {"width":85,"height":88,"data":{"name":"G_inh"},
   "title":{"text":"% inhibition of firing","orient":"bottom","frame":"group","anchor":"middle","offset":1,"fontSize":12},
   "encoding":{"x":{"field":"g","type":"nominal","sort":null,"title":null,"scale":{"domain":["baseline","Post-drug injection"],"paddingInner":0.113,"paddingOuter":0.62,"align":0.45},"axis":{"orient":"top","labels":false,"ticks":false,"offset":-10}},
    "y":{"field":"v","type":"quantitative","title":"% inhibition","scale":{"domain":[-100,0],"nice":false,"range":[88,10]},"axis":{"values":[-100,-75,-50,-25,0],"labelExpr":"replace(format(datum.value,'d'),'−','-')","tickSize":4,"titlePadding":1}}},
   "layer":[
    {"mark":{"type":"bar","stroke":"#111","strokeWidth":1},"encoding":{"fill":{"field":"g","type":"nominal","scale":{"domain":["baseline","Post-drug injection"],"range":["#ffffff","#1e1e1e"]},"legend":null}}},
    {"mark":{"type":"rule","color":"#111","strokeWidth":1},"encoding":{"y2":{"field":"e"}}},
    {"mark":{"type":"tick","color":"#111","size":9,"thickness":1},"encoding":{"y":{"field":"e","type":"quantitative","title":"% inhibition"}}},
    {"transform":[{"filter":"datum.s"}],"mark":{"type":"text","text":"*","fontSize":12,"baseline":"alphabetic","dy":11},"encoding":{"y":{"field":"e","type":"quantitative","title":"% inhibition"}}}
   ]}
 ],"spacing":0,"bounds":"flush"},
 {"hconcat":[
  {"width":37,"height":124,"data":{"values":[]},"mark":"point"},
  {"width":131,"height":91,"data":{"name":"D0"},
   "title":{"text":"D","anchor":"start","frame":"group","baseline":"alphabetic","offset":-23,"dx":6,"fontSize":13},
   "encoding":{"x":{"field":"t","type":"quantitative","title":"Baseline","scale":{"domain":[-0.21,0.275],"nice":false,"zero":false},"axis":{"values":[-0.2,-0.1,0,0.1,0.2],"labelExpr":"replace(format(datum.value,'.1f'),'−','-')","titlePadding":1.5}},
    "y":{"field":"n","type":"quantitative","title":"Spikes per 1 ms bin","scale":{"domain":[0,6],"nice":false,"range":[91,30]},"axis":{"values":[0,2,4,6],"titleFontSize":7.5,"titlePadding":3}}},
   "layer":[
    {"transform":[{"filter":"datum.k !== 's'"}],"mark":{"type":"bar","orient":"vertical","size":1.4,"color":"#222"}},
    {"transform":[{"filter":"datum.k === 's'"}],"mark":{"type":"bar","orient":"vertical","size":1.6,"color":"#8a8a8a"}},
    {"data":{"name":"notes"},"transform":[{"filter":"datum.p === 'D0'"}],"mark":{"type":"text","align":"left","baseline":"top","fontSize":8,"lineHeight":10},"encoding":{"text":{"field":"txt"}}}
   ]},
  {"width":23,"height":1,"data":{"values":[]},"mark":"point"},
  {"width":131,"height":91,"data":{"name":"D1"},
   "encoding":{"x":{"field":"t","type":"quantitative","title":"Quinpirole (0.2 mg/kg)","scale":{"domain":[-0.206,0.273],"nice":false,"zero":false},"axis":{"values":[-0.2,-0.1,0,0.1,0.2],"labelExpr":"replace(format(datum.value,'.1f'),'−','-')","titlePadding":1.5}},
    "y":{"field":"n","type":"quantitative","title":null,"scale":{"domain":[0,6],"nice":false,"range":[91,30]},"axis":{"values":[0,2,4,6]}}},
   "layer":[
    {"transform":[{"filter":"datum.k !== 's'"}],"mark":{"type":"bar","orient":"vertical","size":1.4,"color":"#222"}},
    {"transform":[{"filter":"datum.k === 's'"}],"mark":{"type":"bar","orient":"vertical","size":1.6,"color":"#8a8a8a"}},
    {"data":{"name":"notes"},"transform":[{"filter":"datum.p === 'D1'"}],"mark":{"type":"text","align":"left","baseline":"top","fontSize":8,"lineHeight":10},"encoding":{"text":{"field":"txt"}}}
   ]},
  {"width":100,"height":1,"data":{"values":[]},"mark":"point"},
  {"width":111,"height":91,"data":{"name":"H0"},
   "title":{"text":"H","anchor":"start","frame":"group","baseline":"alphabetic","offset":-23,"dx":1,"fontSize":13},
   "encoding":{"x":{"field":"t","type":"quantitative","title":"Baseline","scale":{"domain":[-0.272,0.42],"nice":false,"zero":false},"axis":{"values":[-0.2,-0.1,0,0.1,0.2,0.3,0.4],"labelExpr":"replace(format(datum.value,'.1f'),'−','-')","titlePadding":1.5}},
    "y":{"field":"n","type":"quantitative","title":"Spikes per 1 ms bin","scale":{"domain":[0,8],"nice":false,"range":[91,19]},"axis":{"values":[0,2,4,6,8],"titleFontSize":7.5,"titlePadding":3}}},
   "layer":[
    {"transform":[{"filter":"datum.k !== 's'"}],"mark":{"type":"bar","orient":"vertical","size":1.4,"color":"#222"}},
    {"transform":[{"filter":"datum.k === 's'"}],"mark":{"type":"bar","orient":"vertical","size":1.6,"color":"#8a8a8a"}},
    {"data":{"name":"notes"},"transform":[{"filter":"datum.p === 'H0'"}],"mark":{"type":"text","align":"left","baseline":"top","fontSize":8,"lineHeight":10},"encoding":{"text":{"field":"txt"}}}
   ]},
  {"width":25,"height":1,"data":{"values":[]},"mark":"point"},
  {"width":110,"height":91,"data":{"name":"H1"},
   "encoding":{"x":{"field":"t","type":"quantitative","title":"PD 168,077 (1.0 mg/kg)","scale":{"domain":[-0.251,0.442],"nice":false,"zero":false},"axis":{"values":[-0.2,-0.1,0,0.1,0.2,0.3,0.4],"labelExpr":"replace(format(datum.value,'.1f'),'−','-')","titlePadding":1.5}},
    "y":{"field":"n","type":"quantitative","title":null,"scale":{"domain":[0,8],"nice":false,"range":[91,19]},"axis":{"values":[0,2,4,6,8]}}},
   "layer":[
    {"transform":[{"filter":"datum.k !== 's'"}],"mark":{"type":"bar","orient":"vertical","size":1.4,"color":"#222"}},
    {"transform":[{"filter":"datum.k === 's'"}],"mark":{"type":"bar","orient":"vertical","size":1.6,"color":"#8a8a8a"}},
    {"data":{"name":"notes"},"transform":[{"filter":"datum.p === 'H1'"}],"mark":{"type":"text","align":"left","baseline":"top","fontSize":8,"lineHeight":10},"encoding":{"text":{"field":"txt"}}}
   ]}
 ],"spacing":0,"bounds":"flush"},
 {"hconcat":[
  {"width":207,"height":1,"data":{"values":[]},"mark":"point"},
  {"width":140,"height":137,"data":{"name":"I0"},
   "title":{"text":"I","anchor":"start","frame":"group","baseline":"alphabetic","offset":-39,"dx":10,"fontSize":13},
   "encoding":{"x":{"field":"t","type":"quantitative","title":"Baseline","scale":{"domain":[-0.281,0.4],"nice":false,"zero":false},"axis":{"values":[-0.2,-0.1,0,0.1,0.2,0.3,0.4],"labelExpr":"replace(format(datum.value,'.1f'),'−','-')","labelFontSize":8}},
    "y":{"field":"n","type":"quantitative","title":"Spikes/1ms bin","scale":{"domain":[0,15],"nice":false,"range":[137,20]},"axis":{"values":[0,5,10,15],"labelFontSize":8,"titleFontSize":9,"titlePadding":6}}},
   "layer":[
    {"transform":[{"filter":"datum.k !== 's'"}],"mark":{"type":"bar","orient":"vertical","size":1.4,"color":"#222"}},
    {"transform":[{"filter":"datum.k === 's'"}],"mark":{"type":"bar","orient":"vertical","size":1.6,"color":"#8a8a8a"}},
    {"data":{"name":"notes"},"transform":[{"filter":"datum.p === 'I0'"}],"mark":{"type":"text","align":"left","baseline":"top","fontSize":8,"lineHeight":10},"encoding":{"text":{"field":"txt"}}}
   ]},
  {"width":28,"height":1,"data":{"values":[]},"mark":"point"},
  {"width":137,"height":137,"data":{"name":"I1"},
   "encoding":{"x":{"field":"t","type":"quantitative","title":"Quinpirole (0.2 mg/kg)","scale":{"domain":[-0.268,0.408],"nice":false,"zero":false},"axis":{"values":[-0.2,-0.1,0,0.1,0.2,0.3,0.4],"labelExpr":"replace(format(datum.value,'.1f'),'−','-')","labelFontSize":8}},
    "y":{"field":"n","type":"quantitative","title":null,"scale":{"domain":[0,15],"nice":false,"range":[137,20]},"axis":{"values":[0,5,10,15],"labelFontSize":8}}},
   "layer":[
    {"transform":[{"filter":"datum.k !== 's'"}],"mark":{"type":"bar","orient":"vertical","size":1.4,"color":"#222"}},
    {"transform":[{"filter":"datum.k === 's'"}],"mark":{"type":"bar","orient":"vertical","size":1.6,"color":"#8a8a8a"}},
    {"data":{"name":"notes"},"transform":[{"filter":"datum.p === 'I1'"}],"mark":{"type":"text","align":"left","baseline":"top","fontSize":8,"lineHeight":10},"encoding":{"text":{"field":"txt"}}}
   ]}
 ],"spacing":0,"bounds":"flush"}
]
}
